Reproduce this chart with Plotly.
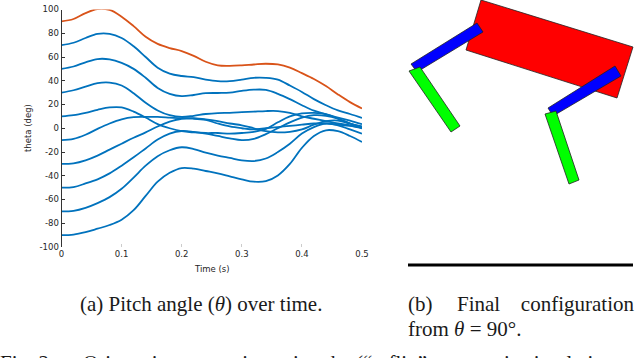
import plotly.graph_objects as go

W, H = 640, 358
time_s = [0, .02, .04, .06, .08, .1, .12, .14, .16, .18, .2, .22, .24, .26, .28, .3, .32, .34, .36, .38, .4, .42, .44, .46, .48, .5]

theta_p90 = [90, 92, 97, 100.4, 99.6, 94, 86, 77, 71, 67.5, 65, 61, 56, 53, 52.6, 53, 53.7, 54.3, 53.7, 51, 46.4, 41.5, 35.5, 28.5, 22, 16.6]
theta_p70 = [70, 72, 76, 79.5, 79.5, 76, 69, 60, 51, 46, 44, 43, 41, 39.7, 39.7, 41, 42.5, 42.5, 41, 36, 30.6, 24.5, 19.4, 15, 12, 8.7]
theta_p50 = [50, 52, 55.5, 58.3, 58, 55, 50, 42.5, 34, 29, 27, 28, 29.5, 29.7, 30, 31.5, 32.5, 32.3, 29, 24.5, 19.4, 14.8, 11.7, 9, 6.5, 3.4]
theta_p30 = [30, 32, 35, 38, 38.5, 36, 29.5, 21.5, 15, 11, 9.5, 10.5, 12, 12.8, 13, 13.5, 14, 14.5, 14.5, 13, 10, 8, 6, 4, 2.5, 1]
theta_p10 = [10, 11, 13, 15.5, 17.5, 17.5, 14, 9, 3.5, 0, -2.5, -3.5, -4, -4, -4.5, -4, -3, -0.5, 5, 10, 12.5, 13, 12, 8, 4, 1.5]
theta_m10 = [-10, -9, -5.5, -0.5, 4, 7.5, 9.3, 9.5, 9.5, 9, 8.5, 8.5, 7.5, 6, 4, 2.5, 0, -2.5, -3.5, -3, -1, 3, 6, 6.5, 4, 1]
theta_m30 = [-30, -29.5, -27, -23, -18, -13, -8, -3.5, 1.5, 5.5, 8, 8, 7, 4, 1.5, 0, -1, 0, 1, 2, 3, 4, 4, 3, 2, 0]
theta_m50 = [-50, -49.5, -46.5, -43, -38, -31.5, -24.5, -17, -9.5, -4.5, -2.3, -3, -4.5, -6.5, -8.5, -10, -9, -5, 0, 5, 9, 11, 10.5, 8, 4, 0]
theta_m70 = [-70, -69.5, -67, -63, -58, -51, -41.5, -31.5, -23.5, -18.5, -16, -17.5, -20.5, -23, -25, -27, -27.6, -25.5, -20, -13, -4.5, 1, 4, 2.5, -1, -4.5]
theta_m90 = [-90, -89.5, -87.5, -84.6, -81.5, -77, -69, -57, -45, -37.5, -33.5, -34, -36, -38, -40.5, -43, -45, -44.5, -39.7, -30, -16.5, -6.5, -1.7, -2.5, -6.5, -11.5]

blue_series = [theta_m90, theta_m70, theta_m50, theta_m30, theta_m10, theta_p10, theta_p30, theta_p50, theta_p70]
orange_series = theta_p90

x_ticks = [0, .1, .2, .3, .4, .5]
x_labels = ["0", "0.1", "0.2", "0.3", "0.4", "0.5"]
y_ticks = list(range(-100, 101, 20))
y_labels = [str(v) for v in y_ticks]

body_x = [481, 633, 617, 466]
body_y = [0, 47, 98, 50]
upper_l_x = [411, 477, 483, 417]
upper_l_y = [64, 23, 32, 72]
lower_l_x = [409, 420, 460, 451]
lower_l_y = [71, 67, 126, 132]
upper_r_x = [548, 615, 621, 553]
upper_r_y = [108, 66, 76, 116]
lower_r_x = [545, 556, 579, 569]
lower_r_y = [114, 111, 180, 184]
ground_x = [408, 633]
ground_y = [265, 265]

caption_labels = ["(a) Pitch angle (<i>θ</i>) over time.", "(b)", "Final", "from <i>θ</i> = 90°.", "Fig. 2.",
                  "Orientation correction using the (“e-flip” strategy in simulation and"]
caption_x = [80, 408, 457, 408, 0, 83]
caption_y = [306, 306, 306, 331, 365, 365]

fig = go.Figure()
for s in blue_series:
    fig.add_trace(go.Scatter(x=time_s, y=s, mode="lines", cliponaxis=False,
                             line=dict(color="#0072BD", width=1.8, shape="spline", smoothing=1.0),
                             xaxis="x", yaxis="y", showlegend=False))
fig.add_trace(go.Scatter(x=time_s, y=orange_series, mode="lines", cliponaxis=False,
                         line=dict(color="#D95319", width=1.8, shape="spline", smoothing=1.0),
                         xaxis="x", yaxis="y", showlegend=False))

for px, py, col in [(body_x, body_y, "#FF0000"), (upper_l_x, upper_l_y, "#0000FF"), (upper_r_x, upper_r_y, "#0000FF"),
                    (lower_l_x, lower_l_y, "#00FF00"), (lower_r_x, lower_r_y, "#00FF00")]:
    fig.add_trace(go.Scatter(x=px + px[:1], y=py + py[:1], mode="lines", fill="toself", fillcolor=col,
                             line=dict(color="#222222", width=0.8), xaxis="x2", yaxis="y2", showlegend=False))
fig.add_trace(go.Scatter(x=ground_x, y=ground_y, mode="lines", line=dict(color="black", width=3.2),
                         xaxis="x2", yaxis="y2", showlegend=False))

tick_font = dict(family="DejaVu Sans", size=8.5, color="#262626")
caption = dict(family="Liberation Serif", size=21, color="#1a1a1a")

fig.add_trace(go.Scatter(x=caption_x, y=caption_y, mode="text", text=caption_labels, textposition="middle right",
                         textfont=caption, xaxis="x3", yaxis="y2", showlegend=False))
fig.add_trace(go.Scatter(x=[634], y=[306], mode="text", text=["configuration"], textposition="middle left",
                         textfont=caption, xaxis="x3", yaxis="y2", showlegend=False))

fig.add_annotation(text="Time (s)", x=212 / W, y=1 - 269 / H, xref="paper", yref="paper", xanchor="center", yanchor="middle",
                   showarrow=False, font=tick_font, borderpad=0)
fig.add_annotation(text="theta (deg)", x=28 / W, y=1 - 128 / H, xref="paper", yref="paper", xanchor="center", yanchor="middle",
                   showarrow=False, font=tick_font, textangle=-90, borderpad=0)

fig.update_layout(
    width=W, height=H, autosize=False, margin=dict(l=0, r=0, t=0, b=0),
    paper_bgcolor="white", plot_bgcolor="rgba(0,0,0,0)",
    xaxis=dict(domain=[61.5 / W, 362 / W], range=[0, .5], tickmode="array", tickvals=x_ticks, ticktext=x_labels,
               ticks="inside", ticklen=3, tickcolor="#cccccc", tickwidth=1, showgrid=False, zeroline=False, showline=False,
               tickfont=tick_font, anchor="y", automargin=False),
    yaxis=dict(domain=[1 - 247 / H, 1 - 9.5 / H], range=[-100, 100], tickmode="array", tickvals=y_ticks, ticktext=y_labels,
               ticks="inside", ticklen=3, tickcolor="#333333", tickwidth=1, showgrid=False, zeroline=False,
               showline=True, linecolor="#333333", linewidth=1, tickfont=tick_font, anchor="x", automargin=False),
    xaxis2=dict(domain=[390 / W, 1], range=[390, 640], visible=False, anchor="y2", automargin=False),
    yaxis2=dict(domain=[0, 1], range=[358, 0], visible=False, anchor="x2", automargin=False),
    xaxis3=dict(domain=[0, 1], range=[0, 640], visible=False, anchor="y2", automargin=False),
)
fig.write_html("out.html", config=dict(displayModeBar=False),
               post_script="document.body.style.margin='0';document.body.style.overflow='hidden';")
